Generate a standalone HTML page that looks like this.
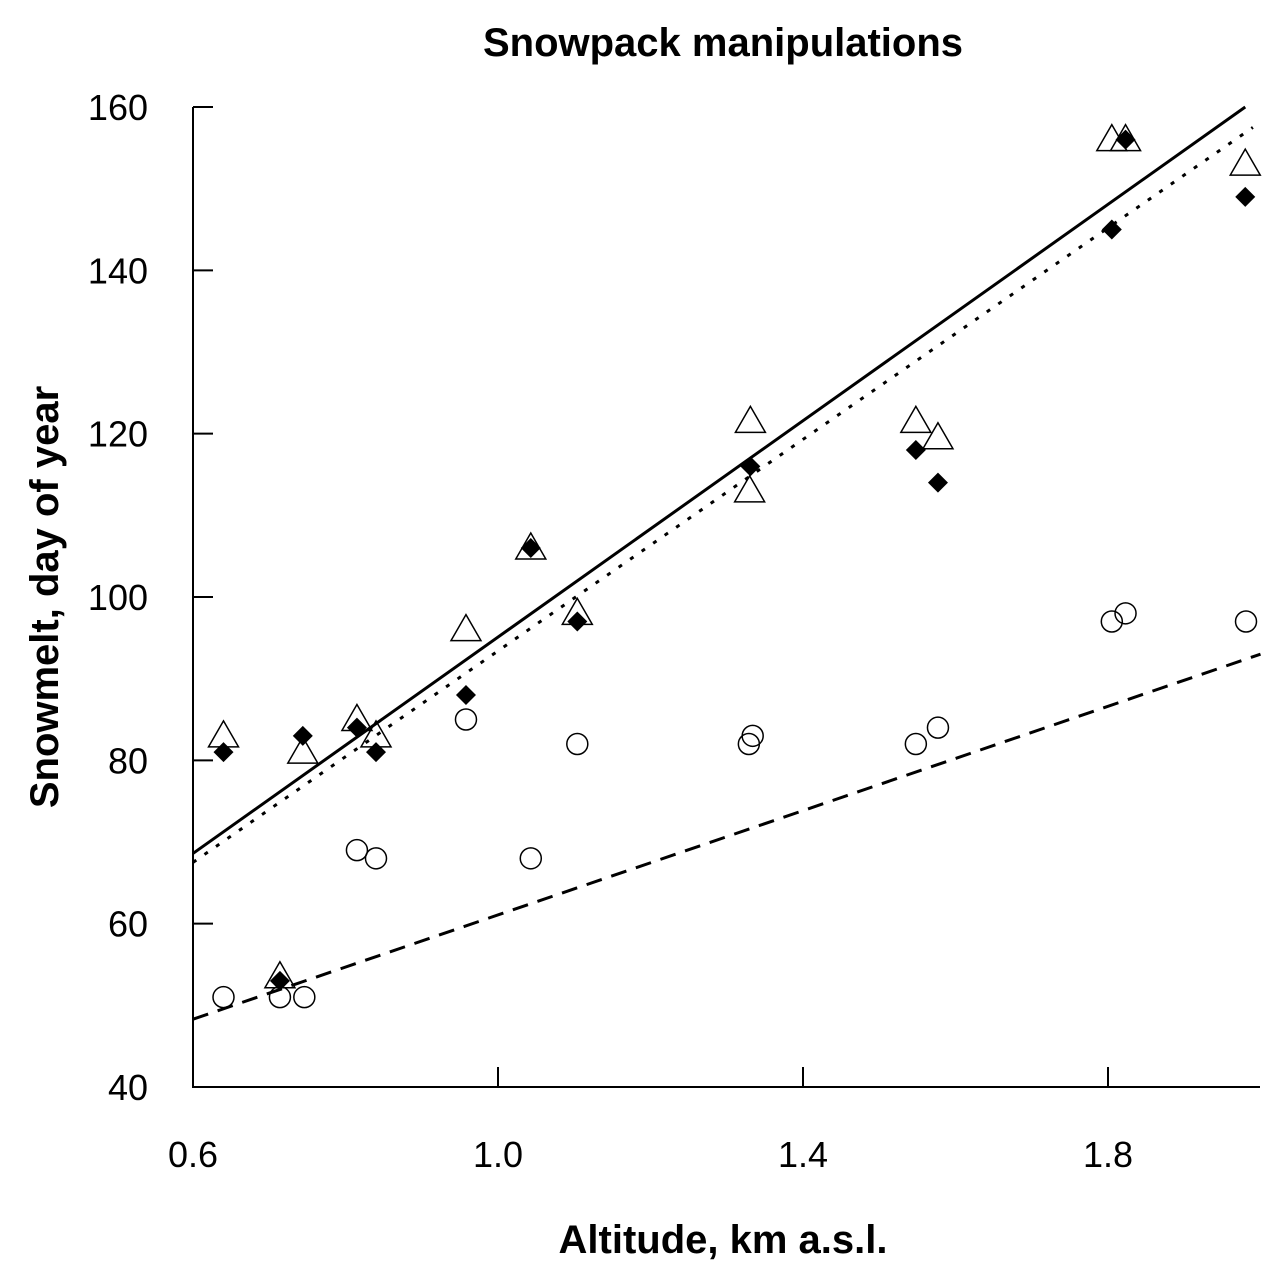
<!DOCTYPE html>
<html><head><meta charset="utf-8">
<style>
html,body{margin:0;padding:0;background:#fff;}
svg{display:block;font-family:"Liberation Sans",Arial,sans-serif;}
</style></head>
<body>
<svg id="chart" width="1267" height="1266" viewBox="0 0 1267 1266">
<text x="723" y="56" text-anchor="middle" font-size="40" font-weight="bold">Snowpack manipulations</text>
<text x="723" y="1253" text-anchor="middle" font-size="40" font-weight="bold">Altitude, km a.s.l.</text>
<text transform="translate(58,597) rotate(-90)" text-anchor="middle" font-size="40" font-weight="bold">Snowmelt, day of year</text>
<g id="axes"></g>
<g id="lines"></g>
<g id="marks"></g>
</svg>
<script>
const xTicks=[0.6,1.0,1.4,1.8];
const xTickLabels=["0.6","1.0","1.4","1.8"];
const yTicks=[40,60,80,100,120,140,160];
const triX=[0.64,0.714,0.744,0.815,0.84,0.958,1.043,1.104,1.331,1.33,1.548,1.577,1.805,1.823,1.98];
const triY=[83,53.5,81,85,83,96,106,98,121.5,113,121.5,119.5,156,156,153];
const diaX=[0.64,0.714,0.744,0.815,0.84,0.958,1.043,1.104,1.331,1.548,1.577,1.805,1.823,1.98];
const diaY=[81,53,83,84,81,88,106,97,116,118,114,145,156,149];
const cirX=[0.64,0.714,0.746,0.815,0.84,0.958,1.043,1.104,1.329,1.334,1.548,1.577,1.805,1.823,1.981];
const cirY=[51,51,51,69,68,85,68,82,82,83,82,84,97,98,97];
const solidLine=[[0.6,68.6],[1.98,160]];
const dottedLine=[[0.6,67.5],[1.99,157.5]];
const dashedLine=[[0.6,48.3],[2.0,93]];

const NS="http://www.w3.org/2000/svg";
const X=v=>193+(v-0.6)*762.5;
const Y=v=>1087-(v-40)*8.1667;
function mk(tag,attrs,parent){const e=document.createElementNS(NS,tag);for(const k in attrs)e.setAttribute(k,attrs[k]);document.getElementById(parent).appendChild(e);return e;}

let e=mk('path',{d:`M193,${Y(160)} V1087 H1260`,stroke:'#000','stroke-width':2,fill:'none'},'axes');


xTicks.forEach((t,i)=>{
  let l=mk('line',{x1:X(t),x2:X(t),y1:1087,y2:1067,stroke:'#000','stroke-width':2},'axes');
  
  
  let tx=mk('text',{x:X(t),y:1167,'text-anchor':'middle','font-size':36},'axes');
  tx.textContent=xTickLabels[i];
  
  
});
yTicks.forEach(t=>{
  let l=mk('line',{x1:193,x2:213,y1:Y(t),y2:Y(t),stroke:'#000','stroke-width':2},'axes');
  
  
  let tx=mk('text',{x:148,y:Y(t)+13,'text-anchor':'end','font-size':36},'axes');
  tx.textContent=String(t);
  
  
});
function line(pts,dash,name){
  let l=mk('line',{x1:X(pts[0][0]),y1:Y(pts[0][1]),x2:X(pts[1][0]),y2:Y(pts[1][1]),stroke:'#000','stroke-width':3,'stroke-dasharray':dash},'lines');
  
  
}
line(solidLine,'none','regression-solid');
line(dottedLine,'4,10','regression-dotted');
line(dashedLine,'16,10','regression-dashed');
triX.forEach((v,i)=>{
  const cx=X(v),cy=Y(triY[i]);
  let p=mk('polygon',{points:`${cx},${cy-15} ${cx-15},${cy+11} ${cx+15},${cy+11}`,fill:'none',stroke:'#000','stroke-width':1.5},'marks');
  
  
});
cirX.forEach((v,i)=>{
  let c=mk('circle',{cx:X(v),cy:Y(cirY[i]),r:10.5,fill:'none',stroke:'#000','stroke-width':1.5},'marks');
  
  
});
diaX.forEach((v,i)=>{
  const cx=X(v),cy=Y(diaY[i]);
  let p=mk('polygon',{points:`${cx},${cy-10} ${cx+10},${cy} ${cx},${cy+10} ${cx-10},${cy}`,fill:'#000'},'marks');
  
  
});
</script>
</body></html>
